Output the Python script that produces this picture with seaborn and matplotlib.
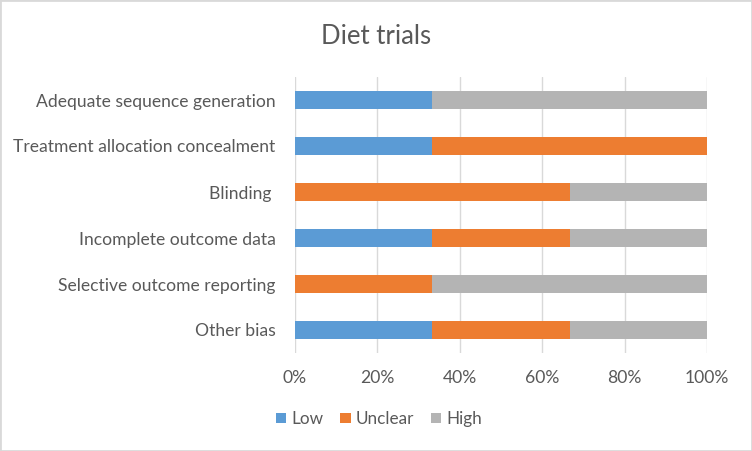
import matplotlib
matplotlib.use("Agg")
import matplotlib.pyplot as plt
import seaborn as sns
import pandas as pd
from matplotlib.ticker import PercentFormatter
from matplotlib.patches import Rectangle

# Risk of bias domains (top to bottom) and number of trials per judgement
domains = [
    "Adequate sequence generation",
    "Treatment allocation concealment",
    "Blinding ",
    "Incomplete outcome data",
    "Selective outcome reporting",
    "Other bias",
]
low = [1, 1, 0, 1, 0, 1]
unclear = [0, 2, 2, 1, 1, 1]
high = [2, 0, 1, 1, 2, 1]
n_trials = 3

series = ["Low", "Unclear", "High"]
colors = ["#5B9BD5", "#ED7D31", "#B4B4B4"]
text_color = "#595959"

df = pd.DataFrame({"domain": domains, "Low": low, "Unclear": unclear, "High": high})
for s in series:
    df[s] = df[s] / n_trials * 100

sns.set_theme(style="white")
plt.rcParams["font.family"] = ["Lato", "DejaVu Sans"]

fig, ax = plt.subplots(figsize=(7.52, 4.51), dpi=100)
fig.subplots_adjust(left=295 / 752, right=707 / 752, top=1 - 77 / 451, bottom=1 - 353 / 451)

# Stacked bars, each layer starts where the previous one ended
left = pd.Series([0.0] * len(df))
for s, c in zip(series, colors):
    sns.barplot(data=df, x=s, y="domain", orient="h", color=c, left=left,
                width=0.4, label=s, ax=ax, saturation=1, linewidth=0)
    left = left + df[s]

ax.set_xlim(0, 100)
ax.set_xticks([0, 20, 40, 60, 80, 100])
ax.xaxis.set_major_formatter(PercentFormatter(decimals=0))
ax.set_xlabel("")
ax.set_ylabel("")
ax.grid(axis="x", color="#D9D9D9", linewidth=1)
ax.set_axisbelow(True)
for sp in ax.spines.values():
    sp.set_visible(False)
ax.tick_params(axis="both", length=0, labelsize=12.6, colors=text_color)
ax.tick_params(axis="y", pad=14)
ax.tick_params(axis="x", pad=12)

fig.suptitle("Diet trials", x=376 / 752, y=1 - 36 / 451, va="center",
             fontsize=18.5, color=text_color)

ax.legend(loc="center", bbox_to_anchor=(379 / 752, 1 - 419 / 451),
          bbox_transform=fig.transFigure, ncol=3, frameon=False,
          fontsize=12.3, labelcolor=text_color, handlelength=0.6, handleheight=0.6,
          handletextpad=0.3, columnspacing=1.0)

fig.patches.append(Rectangle((0, 0), 1, 1, transform=fig.transFigure, fill=False,
                             edgecolor="#D9D9D9", linewidth=2))

plt.savefig("out.png", dpi=100, facecolor="white")
plt.close()
